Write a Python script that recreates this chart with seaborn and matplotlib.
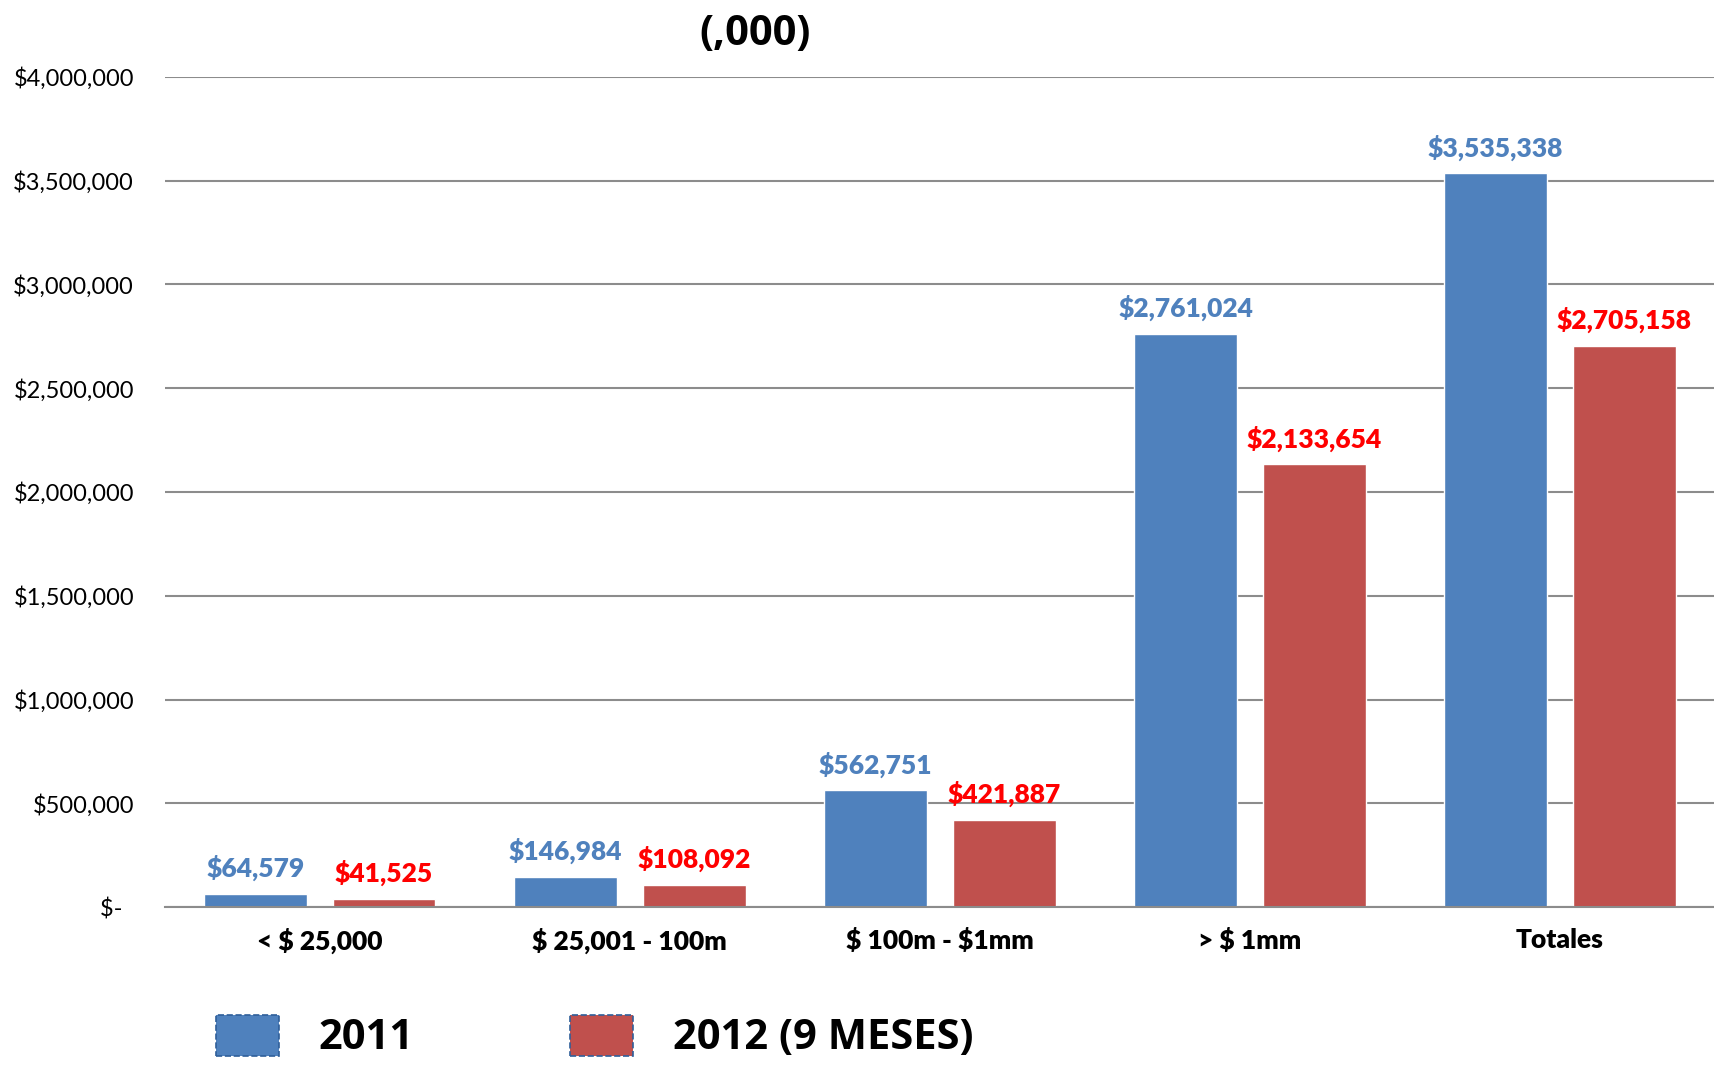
import matplotlib
matplotlib.use("Agg")
import matplotlib.pyplot as plt
import seaborn as sns
import pandas as pd
from matplotlib.patches import Patch

# Data
categories = ["< $ 25,000", "$ 25,001 - 100m", "$ 100m - $1mm", "> $ 1mm", "Totales"]
values_2011 = [64579, 146984, 562751, 2761024, 3535338]
values_2012 = [41525, 108092, 421887, 2133654, 2705158]
series_names = ["2011", "2012 (9 MESES)"]
y_ticks = [0, 500000, 1000000, 1500000, 2000000, 2500000, 3000000, 3500000, 4000000]
y_tick_labels = ["$-  ", "$500,000", "$1,000,000", "$1,500,000", "$2,000,000",
                 "$2,500,000", "$3,000,000", "$3,500,000", "$4,000,000"]

bar_colors = ["#4F81BD", "#C0504D"]
label_colors = ["#4F81BD", "#FF0000"]

df = pd.DataFrame({
    "categoria": categories * 2,
    "valor": values_2011 + values_2012,
    "serie": [series_names[0]] * len(categories) + [series_names[1]] * len(categories),
})

sns.set_style("white")
plt.rcParams["font.family"] = ["Lato", "DejaVu Sans"]
plt.rcParams["text.parse_math"] = False
plt.rcParams["text.color"] = "black"
plt.rcParams["xtick.color"] = "black"
plt.rcParams["ytick.color"] = "black"

fig = plt.figure(figsize = (17.15, 10.66), dpi = 100)
ax = fig.add_axes([0.096, 0.149, 0.904, 0.779])

sns.barplot(data = df, x = "categoria", y = "valor", hue = "serie", palette = bar_colors,
            width = 0.83, gap = 0.2, legend = False, ax = ax, saturation = 1)

# Data labels above each bar
for cont, vals, col in zip(ax.containers, [values_2011, values_2012], label_colors):
    ax.bar_label(cont, labels = [f"${v:,}" for v in vals], padding = 9, color = col,
                 fontsize = 19, fontweight = "heavy")

ax.set_ylim(0, 4000000)
ax.set_xlim(-0.5, 4.5)
ax.set_yticks(y_ticks)
ax.set_yticklabels(y_tick_labels, fontsize = 17)
ax.set_xticklabels(categories, fontsize = 19, fontweight = "heavy")
ax.tick_params(axis = "y", length = 0, pad = 22)
ax.tick_params(axis = "x", length = 0, pad = 15)
ax.set_xlabel("")
ax.set_ylabel("")
ax.yaxis.grid(True, color = "#8C8C8C", linewidth = 1.5)
ax.set_axisbelow(True)
for s in ["top", "right", "left"]:
    ax.spines[s].set_visible(False)
ax.spines["bottom"].set_color("#8C8C8C")
ax.spines["bottom"].set_linewidth(1.5)

fig.text(0.44, 0.968, "(,000)", ha = "center", va = "center", fontsize = 30, fontweight = "bold",
         family = ["Open Sans", "DejaVu Sans"])

handles = [Patch(facecolor = c, edgecolor = "#2F5F9A", linestyle = "--", linewidth = 1.2) for c in bar_colors]
fig.legend(handles, series_names, loc = "center left", bbox_to_anchor = (0.114, 0.027),
           ncol = 2, frameon = False, borderpad = 0, handlelength = 1.51, handleheight = 1.13,
           handletextpad = 0.95, columnspacing = 3.75,
           prop = {"size": 30, "weight": "bold", "family": ["Open Sans", "DejaVu Sans"]})

fig.savefig("out.png", dpi = 100)
